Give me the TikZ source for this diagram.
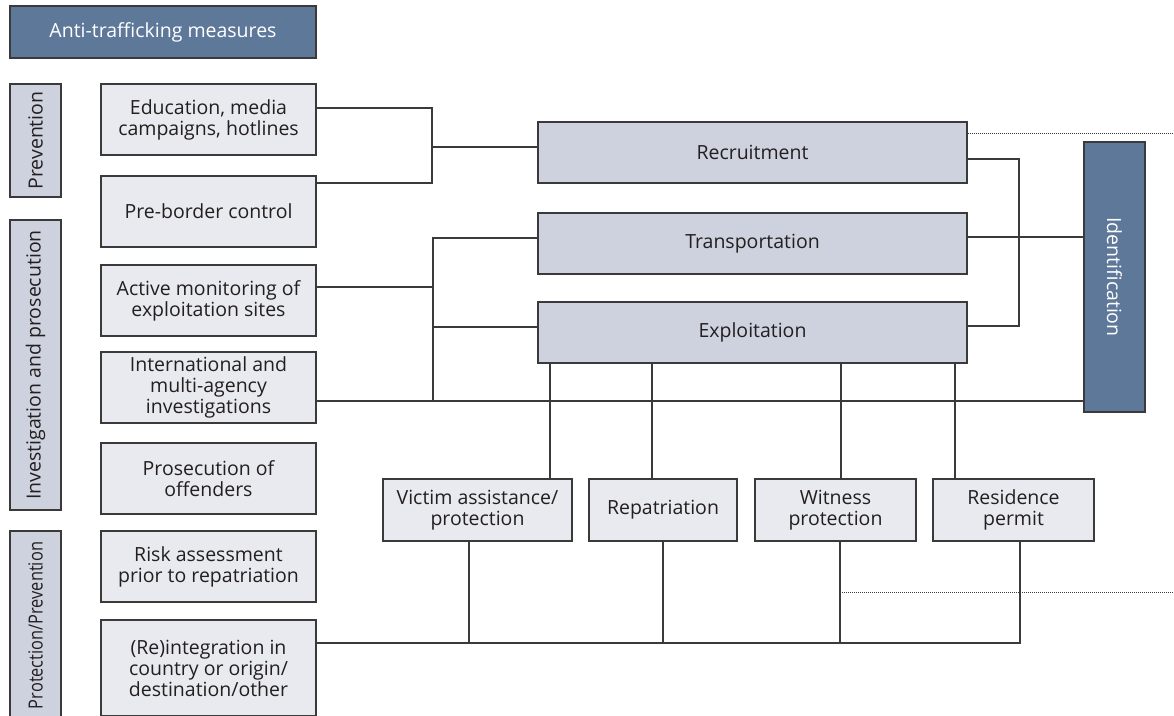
\documentclass[tikz,border=0pt]{standalone}
\usepackage{fontspec}
\setmainfont{Open Sans}
\usetikzlibrary{calc}
\definecolor{darkblue}{HTML}{5E7899}
\definecolor{midfill}{HTML}{CDD2DE}
\definecolor{lightfill}{HTML}{E9EAF0}
\definecolor{txt}{HTML}{231F20}
\definecolor{edge}{HTML}{3A3A3A}
\begin{document}
\begin{tikzpicture}[x=1pt,y=-1pt,
  base/.style={draw=edge, line width=1.2pt, inner sep=0pt, align=center, text=txt,
    font=\fontsize{19.5}{21}\selectfont},
  dark/.style={base, fill=darkblue, text=white},
  cat/.style={base, fill=midfill},
  lbox/.style={base, fill=lightfill, minimum width=215pt, minimum height=71pt},
  mbox/.style={base, fill=midfill, minimum width=429pt, minimum height=61pt},
  bbox/.style={base, fill=lightfill, minimum height=62pt},
  conn/.style={draw=edge, line width=1.1pt},
  dots/.style={draw=edge, line width=0.8pt, dash pattern=on 0.9pt off 1.1pt}
]
\useasboundingbox (0,0) rectangle (1174,715);

% title and category labels
\node[dark, minimum width=306pt, minimum height=52pt] (title) at (163,32) {Anti-trafficking measures};
\node[cat, minimum width=51pt, minimum height=113pt] (prev) at (35.5,140.5) {\rotatebox{90}{Prevention}};
\node[cat, minimum width=51pt, minimum height=290pt] (inv) at (35.5,365) {\rotatebox{90}{Investigation and prosecution}};
\node[cat, minimum width=51pt, minimum height=189pt] (prot) at (35.5,625.5) {\rotatebox{90}{\scalebox{0.84}[1]{Protection/Prevention}}};

% left boxes
\node[lbox] (edu) at (208.5,119.5) {Education, media\\campaigns, hotlines};
\node[lbox] (pre) at (208.5,211.5) {Pre-border control};
\node[lbox] (act) at (208.5,300.5) {Active monitoring of\\exploitation sites};
\node[lbox] (intl) at (208.5,387.5) {International and\\multi-agency\\investigations};
\node[lbox] (pros) at (208.5,478.5) {Prosecution of\\offenders};
\node[lbox] (risk) at (208.5,566.5) {Risk assessment\\prior to repatriation};
\node[lbox, minimum height=96pt] (reint) at (208.5,668) {(Re)integration in\\country or origin/\\destination/other};

% middle boxes
\node[mbox] (rec) at (752.5,152.5) {Recruitment};
\node[mbox] (trans) at (752.5,243.5) {Transportation};
\node[mbox] (expl) at (752.5,332.5) {Exploitation};

% identification
\node[dark, minimum width=61pt, minimum height=270pt] (ident) at (1114.5,277) {\rotatebox{-90}{Identification}};

% bottom boxes
\node[bbox, minimum width=189pt] (vict) at (477.5,510) {Victim assistance/\\protection};
\node[bbox, minimum width=148pt] (repat) at (663,510) {Repatriation};
\node[bbox, minimum width=161pt] (wit) at (835.5,510) {Witness\\protection};
\node[bbox, minimum width=161pt] (res) at (1013.5,510) {Residence\\permit};

% junction coordinates
\coordinate (jA) at (432,108);
\coordinate (jB) at (432,183);
\coordinate (jC) at (432,147);
\coordinate (jD) at (433,287);
\coordinate (jE) at (433,238);
\coordinate (jF) at (433,327);
\coordinate (jG) at (433,401);
\coordinate (jH) at (1019,159);
\coordinate (jI) at (1019,326);
\coordinate (jJ) at (1084,237);
\coordinate (xa) at (550,0);
\coordinate (xb) at (652,0);
\coordinate (xc) at (841,0);
\coordinate (xd) at (955,0);
\coordinate (bA) at (469,643);
\coordinate (bB) at (663,643);
\coordinate (bC) at (840,643);
\coordinate (bD) at (1020,643);
\coordinate (dA) at (1174,133);
\coordinate (dB) at (1174,592);

% prevention to recruitment
\draw[conn] (edu.east |- jA) -- (jA) -- (jB) -- (pre.east |- jB);
\draw[conn] (jC) -- (rec.west |- jC);

% investigation to transportation/exploitation
\draw[conn] (act.east |- jD) -- (jD);
\draw[conn] (trans.west |- jE) -- (jE) -- (jG);
\draw[conn] (jF) -- (expl.west |- jF);
\draw[conn] (intl.east |- jG) -- (ident.west |- jG);

% right side to identification
\draw[conn] (rec.east |- jH) -- (jH) -- (jI) -- (expl.east |- jI);
\draw[conn] (trans.east |- jJ) -- (ident.west |- jJ);

% exploitation to protection measures
\draw[conn] (expl.south -| xa) -- (vict.north -| xa);
\draw[conn] (expl.south -| xb) -- (repat.north -| xb);
\draw[conn] (expl.south -| xc) -- (wit.north -| xc);
\draw[conn] (expl.south -| xd) -- (res.north -| xd);

% protection measures to reintegration
\draw[conn] (reint.east |- bA) -- (bD) -- (res.south -| bD);
\draw[conn] (vict.south -| bA) -- (bA);
\draw[conn] (repat.south -| bB) -- (bB);
\draw[conn] (wit.south -| bC) -- (bC);

% dotted lines
\draw[dots] (rec.east |- dA) -- (dA);
\draw[dots] (bC |- dB) -- (dB);
\end{tikzpicture}
\end{document}
